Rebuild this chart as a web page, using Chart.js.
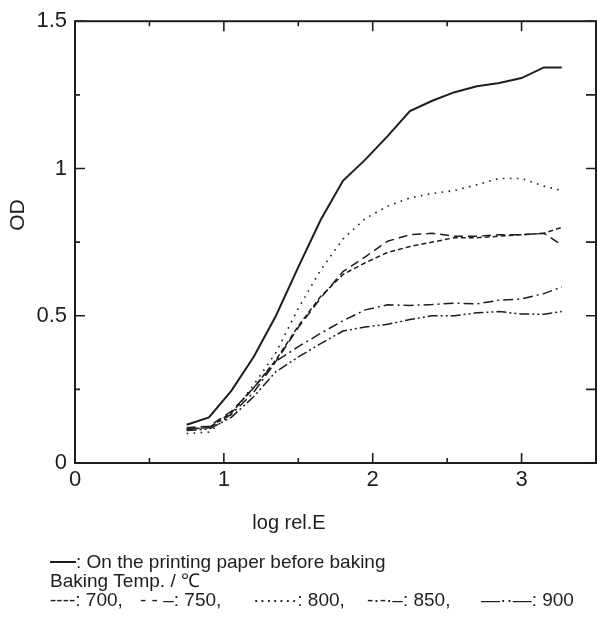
<!DOCTYPE html>
<html>
<head>
<meta charset="utf-8">
<script src="https://cdn.jsdelivr.net/npm/chart.js@4.4.1/dist/chart.umd.min.js"></script>
<style>
  html, body { margin: 0; padding: 0; background: #fff; }
  #wrap { width: 597px; height: 619px; position: relative; }
</style>
</head>
<body>
<div id="wrap"><canvas id="c" width="597" height="619"></canvas></div>
<script>
// ---- data ----
const logE = [0.75, 0.9, 1.05, 1.2, 1.35, 1.5, 1.65, 1.8, 1.95, 2.1, 2.25, 2.4, 2.55, 2.7, 2.85, 3.0, 3.15, 3.27];
const odBefore = [0.13, 0.155, 0.245, 0.36, 0.5, 0.665, 0.825, 0.958, 1.03, 1.11, 1.195, 1.23, 1.259, 1.279, 1.29, 1.307, 1.343, 1.343];
const od700 = [0.115, 0.12, 0.17, 0.255, 0.35, 0.465, 0.565, 0.64, 0.68, 0.715, 0.735, 0.75, 0.765, 0.765, 0.77, 0.775, 0.78, 0.80];
const od750 = [0.12, 0.125, 0.175, 0.255, 0.345, 0.46, 0.56, 0.65, 0.70, 0.753, 0.775, 0.78, 0.77, 0.77, 0.775, 0.775, 0.78, 0.74];
const od800 = [0.10, 0.105, 0.165, 0.265, 0.375, 0.525, 0.655, 0.76, 0.83, 0.872, 0.90, 0.915, 0.925, 0.945, 0.966, 0.966, 0.94, 0.925];
const od850 = [0.115, 0.12, 0.165, 0.24, 0.345, 0.395, 0.44, 0.483, 0.52, 0.537, 0.535, 0.538, 0.543, 0.54, 0.553, 0.557, 0.575, 0.598];
const od900 = [0.11, 0.115, 0.155, 0.225, 0.31, 0.36, 0.405, 0.448, 0.462, 0.471, 0.487, 0.50, 0.50, 0.51, 0.514, 0.506, 0.505, 0.514];

const xTickLabels = [0, 1, 2, 3];
const xMinorTicks = [0.5, 1.5, 2.5];
const yTickLabels = [0, 0.5, 1, 1.5];
const yMinorTicks = [0.25, 0.75, 1.25];

const xTitle = 'log rel.E';
const yTitle = 'OD';
const legendLine1 = ': On the printing paper before baking';
const legendLine2 = 'Baking Temp. / ℃';
const legendSamples = ['----', '- - –', '·······', '-·-·–', '—··—'];
const legendTemps = [': 700,', ': 750,', ': 800,', ': 850,', ': 900'];

// ---- chart ----
const FONT = "'Liberation Sans', Arial, Helvetica, sans-serif";
const INK = '#1e1e1e';
Chart.defaults.font.family = FONT;
Chart.defaults.color = INK;

function pts(arr) { return logE.map((x, i) => ({ x: x, y: arr[i] })); }

function ds(label, arr, dash, width) {
  return {
    label: label, data: pts(arr),
    borderColor: INK, borderWidth: width, borderDash: dash,
    pointRadius: 0, tension: 0, fill: false
  };
}

const framePlugin = {
  id: 'frame',
  afterDraw(chart) {
    const { ctx, chartArea: a, scales } = chart;
    const sx = scales.x, sy = scales.y;
    ctx.save();
    ctx.strokeStyle = INK;
    ctx.lineWidth = 2;
    ctx.strokeRect(a.left, a.top, a.right - a.left, a.bottom - a.top);
    ctx.lineWidth = 1.6;
    ctx.beginPath();
    const tickX = (v, len) => {
      const px = sx.getPixelForValue(v);
      ctx.moveTo(px, a.bottom); ctx.lineTo(px, a.bottom - len);
      ctx.moveTo(px, a.top); ctx.lineTo(px, a.top + len);
    };
    const tickY = (v, lenL, lenR) => {
      const py = sy.getPixelForValue(v);
      ctx.moveTo(a.left, py); ctx.lineTo(a.left + lenL, py);
      ctx.moveTo(a.right, py); ctx.lineTo(a.right - lenR, py);
    };
    xTickLabels.forEach(v => tickX(v, 10));
    xMinorTicks.forEach(v => tickX(v, 5));
    yTickLabels.forEach(v => tickY(v, 10, 10));
    yMinorTicks.forEach(v => tickY(v, 5, 10));
    ctx.stroke();

    // titles
    ctx.fillStyle = INK;
    ctx.textAlign = 'center';
    ctx.textBaseline = 'middle';
    ctx.font = '20px ' + FONT;
    ctx.fillText(xTitle, 289, 523);
    ctx.save();
    ctx.translate(18, 215);
    ctx.rotate(-Math.PI / 2);
    ctx.font = '21px ' + FONT;
    ctx.fillText(yTitle, 0, 0);
    ctx.restore();

    // legend notes
    ctx.textAlign = 'left';
    ctx.font = '19px ' + FONT;
    ctx.lineWidth = 2;
    ctx.beginPath();
    ctx.moveTo(50, 562); ctx.lineTo(76, 562);
    ctx.stroke();
    ctx.fillText(legendLine1, 76, 563);
    ctx.fillText(legendLine2, 50, 582);
    const starts = [50, 140, 253, 367, 481];
    legendSamples.forEach((s, i) => {
      const x0 = starts[i];
      ctx.fillText(s, x0, 601);
      const w = ctx.measureText(s).width;
      ctx.fillText(legendTemps[i], x0 + w, 601);
    });
    ctx.restore();
  }
};

new Chart(document.getElementById('c'), {
  type: 'line',
  data: {
    datasets: [
      ds('On the printing paper before baking', odBefore, [], 2),
      ds('700', od700, [5, 3], 1.5),
      ds('750', od750, [9, 5], 1.5),
      ds('800', od800, [1.6, 5.4], 1.6),
      ds('850', od850, [10, 4, 2, 4], 1.5),
      ds('900', od900, [10, 3, 2, 3, 2, 3], 1.5)
    ]
  },
  options: {
    responsive: false,
    animation: false,
    devicePixelRatio: 1,
    layout: { padding: { top: 19, right: 1, left: 0, bottom: 0 } },
    plugins: { legend: { display: false }, tooltip: { enabled: false } },
    scales: {
      x: {
        type: 'linear', min: 0, max: 3.5,
        grid: { display: false, drawTicks: false },
        border: { display: false },
        afterFit(s) { s.height = 156; },
        afterBuildTicks(s) { s.ticks = xTickLabels.map(v => ({ value: v })); },
        ticks: { font: { size: 22 }, padding: 4, color: INK, maxRotation: 0,
                 callback: v => String(v) }
      },
      y: {
        type: 'linear', min: 0, max: 1.5,
        grid: { display: false, drawTicks: false },
        border: { display: false },
        afterFit(s) { s.width = 75; },
        afterBuildTicks(s) { s.ticks = yTickLabels.map(v => ({ value: v })); },
        ticks: { font: { size: 22 }, padding: 8, color: INK,
                 callback: v => String(v) }
      }
    }
  },
  plugins: [framePlugin]
});
</script>
</body>
</html>
